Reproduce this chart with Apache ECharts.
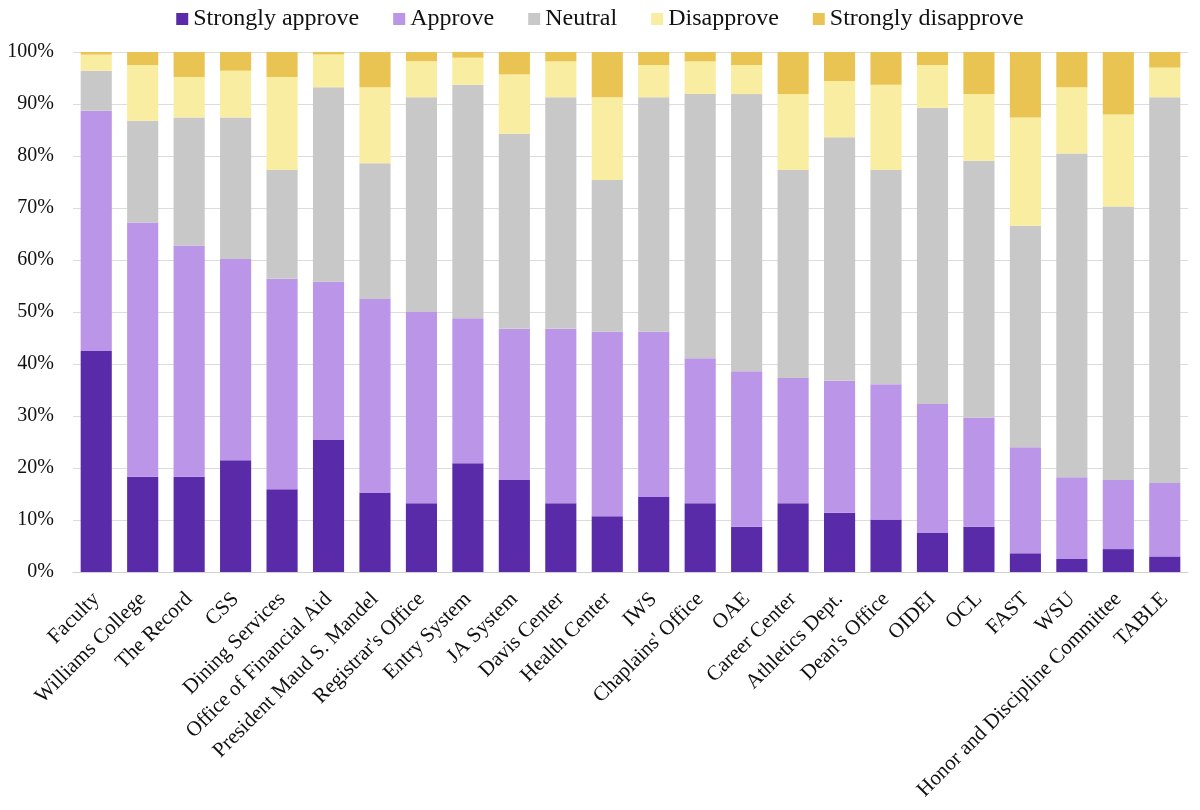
<!DOCTYPE html>
<html><head><meta charset="utf-8">
<script src="https://cdn.jsdelivr.net/npm/echarts@6/dist/echarts.min.js"></script>
<style>html,body{margin:0;padding:0;background:#fff}#c{width:1200px;height:810px}</style>
</head><body><div id="c"></div>
<script>
const categories = ["Faculty","Williams College","The Record","CSS","Dining Services","Office of Financial Aid","President Maud S. Mandel","Registrar's Office","Entry System","JA System","Davis Center","Health Center","IWS","Chaplains' Office","OAE","Career Center","Athletics Dept.","Dean's Office","OIDEI","OCL","FAST","WSU","Honor and Discipline Committee","TABLE"];
const stronglyApprove = [42.5,18.3,18.3,21.5,15.9,25.4,15.2,13.2,20.9,17.7,13.2,10.7,14.4,13.2,8.7,13.2,11.4,10.1,7.5,8.7,3.6,2.5,4.4,3.0];
const approve = [46.2,48.9,44.5,38.7,40.5,30.4,37.3,36.8,27.9,29.1,33.6,35.5,31.8,27.9,29.9,24.1,25.4,26.0,24.8,21.0,20.4,15.7,13.3,14.1];
const neutral = [7.7,19.6,24.6,27.2,20.9,37.4,26.1,41.3,44.9,37.5,44.5,29.2,45.1,50.8,53.3,40.0,46.8,41.2,57.0,49.4,42.6,62.3,52.6,74.2];
const disapprove = [3.1,10.7,7.8,9.0,17.9,6.3,14.6,6.9,5.2,11.4,6.9,15.9,6.2,6.3,5.6,14.6,10.8,16.4,8.2,12.8,20.8,12.7,17.7,5.7];
const stronglyDisapprove = [0.5,2.5,4.8,3.6,4.8,0.5,6.8,1.8,1.1,4.3,1.8,8.7,2.5,1.8,2.5,8.1,5.6,6.3,2.5,8.1,12.6,6.8,12.0,3.0];
const seriesNames = ["Strongly approve","Approve","Neutral","Disapprove","Strongly disapprove"];
const colors = ["#5A2BA8","#BB95E8","#C8C8C8","#F8EDA0","#EAC452"];
const values = [stronglyApprove, approve, neutral, disapprove, stronglyDisapprove];

const chart = echarts.init(document.getElementById('c'), null, {renderer:'canvas'});
const font = "'Liberation Serif', 'DejaVu Serif', serif";
chart.setOption({
  backgroundColor:'#fff',
  animation:false,
  color: colors,
  textStyle:{fontFamily:font},
  legend:{
    top:2, left:'center', itemWidth:12, itemHeight:12, itemGap:34,
    icon:'rect',
    textStyle:{fontSize:24, color:'#111', fontFamily:font, padding:[0,0,0,0]},
    data: seriesNames
  },
  grid:{left:73, right:12, top:52, bottom:238, containLabel:false},
  xAxis:{
    type:'category', data:categories,
    axisTick:{show:false},
    axisLine:{lineStyle:{color:'#d0d0d0'}},
    axisLabel:{rotate:45, interval:0, fontSize:21, color:'#111', fontFamily:font, margin:24}
  },
  yAxis:{
    type:'value', min:0, max:100, interval:10,
    axisLabel:{formatter:'{value}%', fontSize:20, color:'#111', fontFamily:font, margin:19},
    splitLine:{lineStyle:{color:'#dcdcdc'}},
    axisLine:{show:false}, axisTick:{show:false}
  },
  series: seriesNames.map((n,i)=>({
    name:n, type:'bar', stack:'total', data:values[i],
    barCategoryGap:'33%',
    itemStyle:{color:colors[i]}
  }))
});
</script></body></html>
